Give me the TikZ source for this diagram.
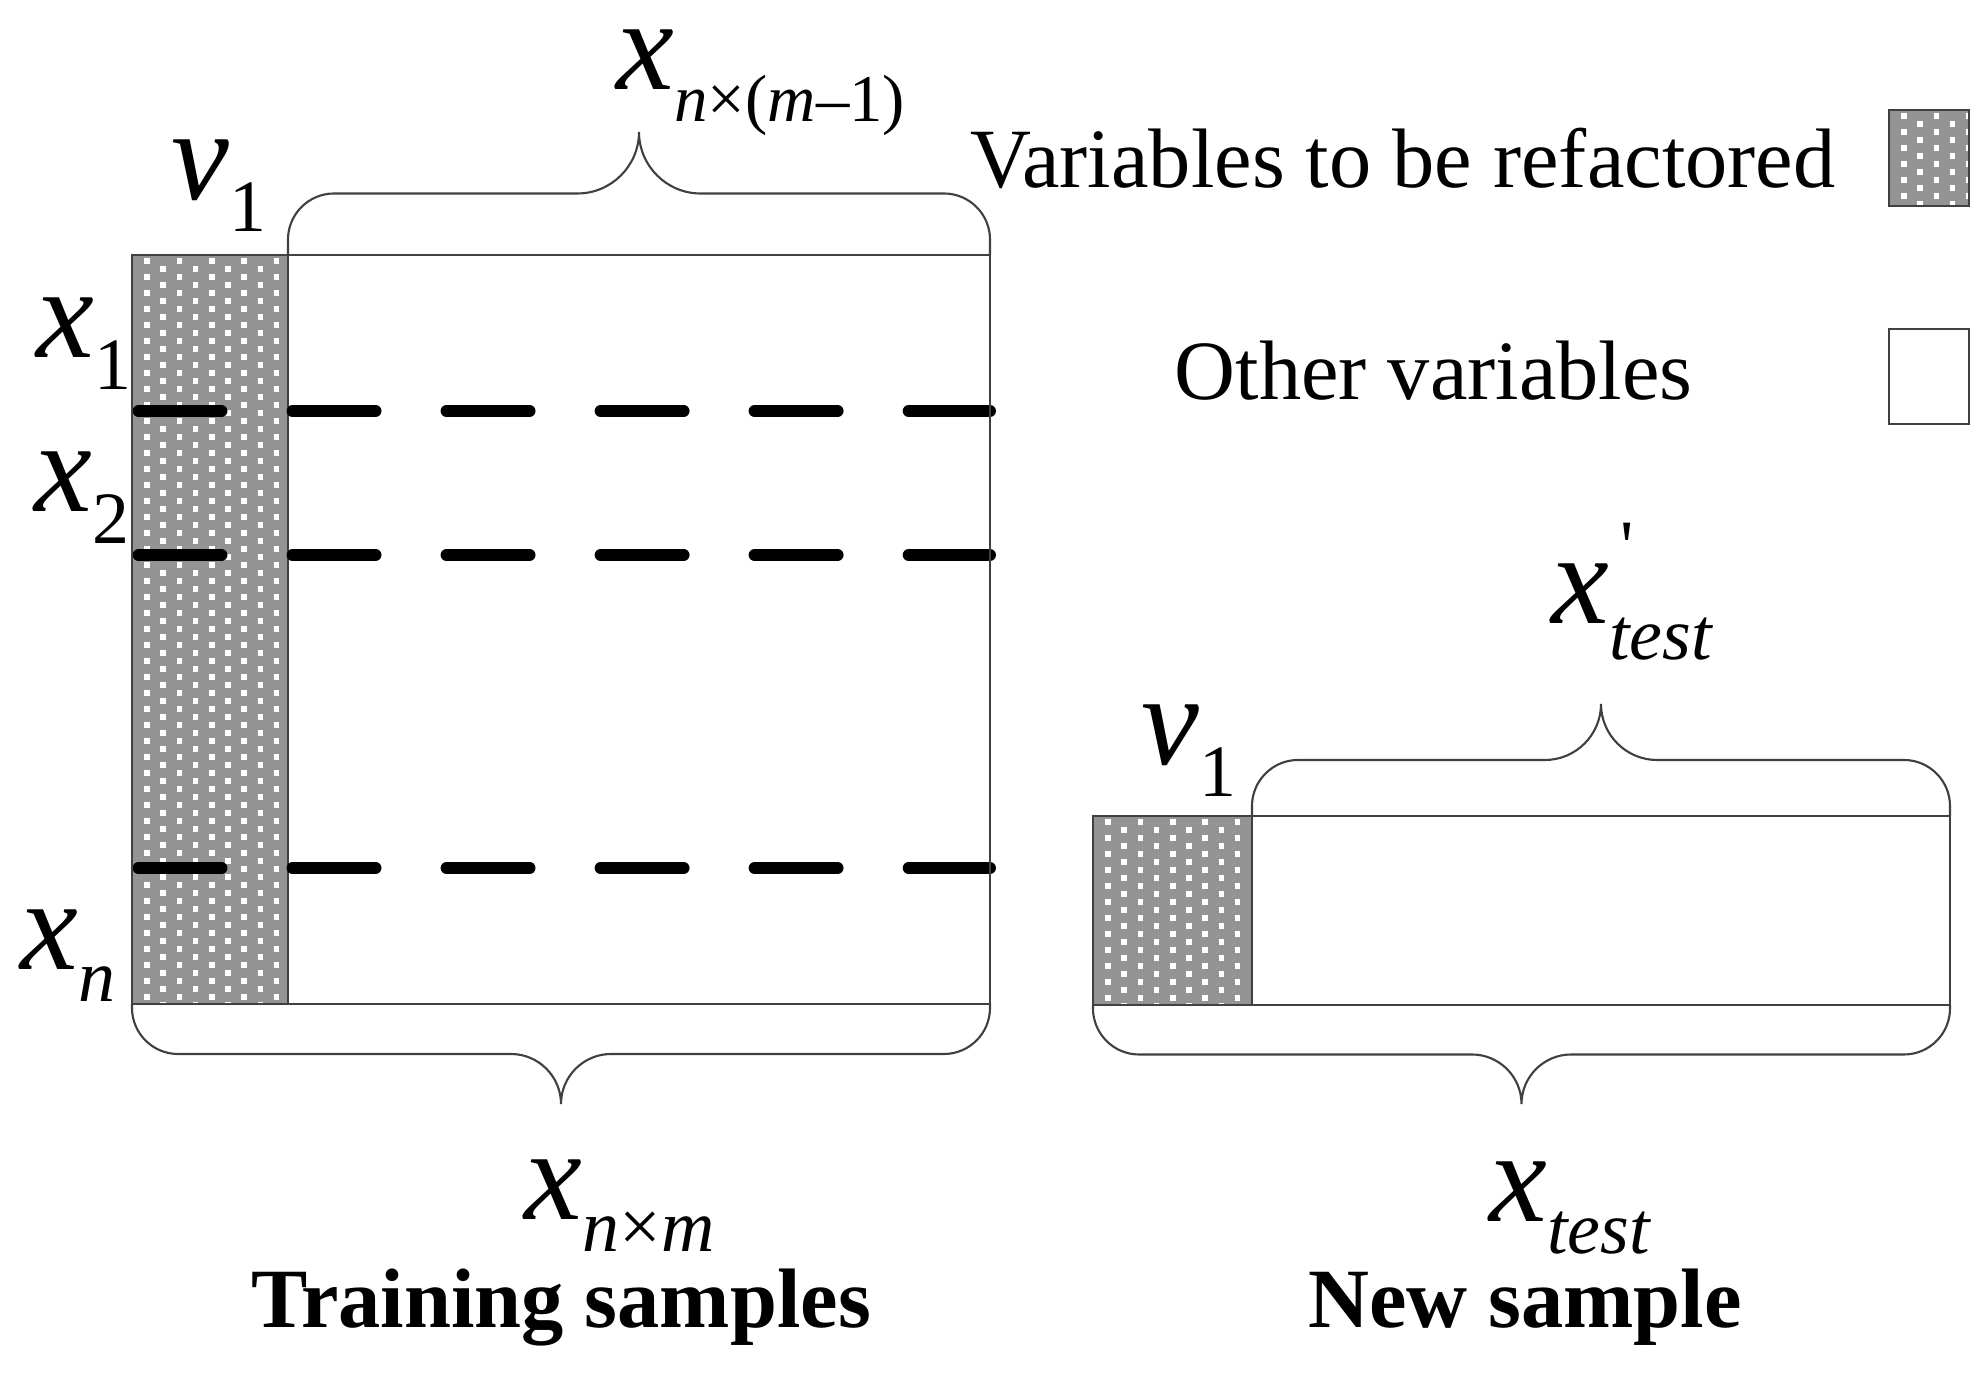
\documentclass[tikz,border=0pt]{standalone}
\usepackage{fontspec}
\setmainfont{Liberation Serif}
\usepackage{tikz}
\newcommand{\varlab}[3][21]{{\fontsize{37}{40}\selectfont\itshape #2}\raisebox{-9pt}{\fontsize{#1}{24}\selectfont #3}}
\newcommand{\varlabp}[2]{{\fontsize{37}{40}\selectfont\itshape #1}\rlap{\kern3pt\raisebox{15pt}{\fontsize{21}{24}\selectfont\textquotesingle}}\raisebox{-10pt}{\fontsize{21}{24}\selectfont #2}}
\newcommand{\dotbox}[4]{%
	\fill[cell] (#1,#2) rectangle (#3,#4);
	\begin{scope}
		\clip (#1,#2) rectangle (#3,#4);
		\pgfmathtruncatemacro{\nc}{(#3-#1)/16}
		\pgfmathtruncatemacro{\nr}{(#4-#2)/16}
		\foreach \i in {0,...,\nc}
		{
			\foreach \j in {0,...,\nr}
				\fill[white] ({#1+15+16.2*\i},{#2+6+16*\j+8*mod(\i,2)}) +(-2.8,-2.8) rectangle +(2.8,2.8);
		}
	\end{scope}
	\draw[frame] (#1,#2) rectangle (#3,#4);
}
\newcommand{\sbrace}[4]{%
	\pgfmathsetmacro{\bm}{(#1+#2)/2}
	\pgfmathsetmacro{\bh}{(#4)/2}
	\pgfmathsetmacro{\bt}{abs(\bh)}
	\pgfmathsetmacro{\br}{46*(#4)/abs(#4)}
	\draw[brc] (#1,#3) -- (#1,{#3+(\bh)-(\br)}) .. controls (#1,{#3+(\bh)-0.45*(\br)}) and ({#1+20.7},{#3+(\bh)}) .. ({#1+46},{#3+(\bh)})
		-- ({\bm-\bt},{#3+(\bh)}) .. controls ({\bm-0.45*\bt},{#3+(\bh)}) and (\bm,{#3+1.45*(\bh)}) .. (\bm,{#3+(#4)})
		.. controls (\bm,{#3+1.45*(\bh)}) and ({\bm+0.45*\bt},{#3+(\bh)}) .. ({\bm+\bt},{#3+(\bh)})
		-- ({#2-46},{#3+(\bh)}) .. controls ({#2-20.7},{#3+(\bh)}) and (#2,{#3+(\bh)-0.45*(\br)}) .. (#2,{#3+(\bh)-(\br)}) -- (#2,#3);
}
\tikzset{
	cell/.style={fill=black!42},
	frame/.style={draw=black!75,line width=0.7pt},
	brc/.style={draw=black!75,line width=0.6pt},
	cut/.style={line width=3.4pt,line cap=round,dash pattern=on 23.6pt off 20.2pt},
	lab/.style={inner sep=0pt,anchor=base west},
	txt/.style={inner sep=0pt,anchor=base west,font=\fontsize{24}{28}\selectfont}
}

\begin{document}
\begin{tikzpicture}[x=0.01cm,y=-0.01cm]
	\useasboundingbox (0,0) rectangle (1987,1374);
	
	% training samples
	\fill[white] (132,255) rectangle (990,1004);
	\dotbox{132}{255}{288}{1004}
	\foreach \y in {411,555,868}
	{
		\draw[cut] (138.5,\y) -- (990,\y);
	}
	\draw[frame] (132,255) rectangle (990,1004);
	\sbrace{288}{990}{255}{-123}
	\sbrace{132}{990}{1004}{100}
	
	\node[lab] (xsub) at (616,90) {\varlab[19]{x}{\textit{n}×(\textit{m}–1)}};
	\node[lab] (v1) at (171,200) {\varlab{v}{1}};
	\node[lab] (x1) at (36,358) {\varlab{x}{1}};
	\node[lab] (x2) at (34,512) {\varlab{x}{2}};
	\node[lab] (xn) at (20,970) {\varlab{x}{\textit{n}}};
	\node[lab] (xnm) at (524,1220) {\varlab{x}{\textit{n}×\textit{m}}};
	\node[txt,anchor=base,font=\fontsize{24}{28}\selectfont\bfseries] (train) at (561,1328) {Training samples};
	
	% new sample
	\draw[frame] (1093,816) rectangle (1950,1005);
	\dotbox{1093}{816}{1252}{1005}
	\sbrace{1252}{1950}{816}{-112}
	\sbrace{1093}{1950}{1005}{99}
	
	\node[lab] (v1new) at (1141,765) {\varlab{v}{1}};
	\node[lab] (xtp) at (1551,624) {\varlabp{x}{\textit{test}}};
	\node[lab] (xt) at (1489,1222) {\varlab{x}{\textit{test}}};
	\node[txt,anchor=base,font=\fontsize{24}{28}\selectfont\bfseries] (new) at (1525,1328) {New sample};
	
	% legend
	\node[txt] (refac) at (970,188) {Variables to be refactored};
	\node[txt] (other) at (1174,400) {Other variables};
	\dotbox{1889}{110}{1969}{206}
	\draw[frame] (1889,329) rectangle (1969,424);
	
\end{tikzpicture}
\end{document}
